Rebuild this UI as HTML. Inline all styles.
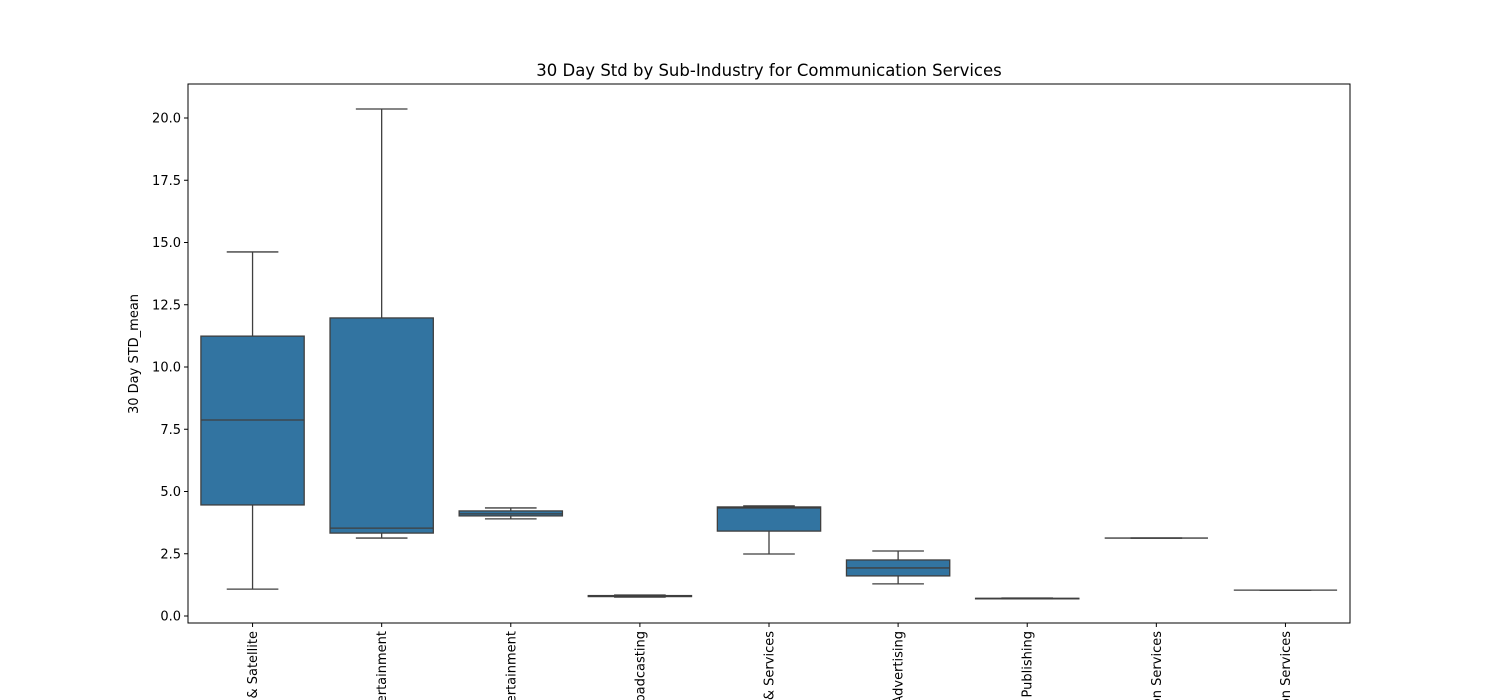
<!DOCTYPE html>
<html><head><meta charset="utf-8"><style>
html,body{margin:0;padding:0;width:1500px;height:700px;overflow:hidden;background:#fff;}
svg{display:block;font-family:"DejaVu Sans","Liberation Sans",sans-serif;overflow:hidden;}
</style></head><body>
<svg id="chart" width="1500" height="700" xmlns="http://www.w3.org/2000/svg"></svg>
<script>
const categories=["Cable & Satellite","Movies & Entertainment","Interactive Home Entertainment","Broadcasting","Interactive Media & Services","Advertising","Publishing","Integrated Telecommunication Services","Wireless Telecommunication Services"];
const whiskerLow=[1.08,3.13,3.90,0.76,2.49,1.29,0.69,3.13,1.04];
const q1Values=[4.46,3.33,4.02,0.78,3.41,1.61,0.69,3.13,1.04];
const medianValues=[7.87,3.53,4.10,0.80,4.34,1.93,0.70,3.13,1.04];
const q3Values=[11.24,11.97,4.22,0.82,4.38,2.25,0.71,3.13,1.04];
const whiskerHigh=[14.62,20.36,4.34,0.84,4.42,2.61,0.72,3.13,1.04];
const yTicks=[0,2.5,5,7.5,10,12.5,15,17.5,20];
const yTickLabels=["0.0","2.5","5.0","7.5","10.0","12.5","15.0","17.5","20.0"];

const svg=document.getElementById('chart');
const NS='http://www.w3.org/2000/svg';
const L=188,R=1350,T=84,B=623;
const y=v=>616-v*24.9;
const band=(R-L)/categories.length;
const x=i=>L+band*(i+0.5);
function mk(tag,attrs,parent){const e=document.createElementNS(NS,tag);for(const k in attrs)e.setAttribute(k,attrs[k]);(parent||svg).appendChild(e);return e;}

const title=mk('text',{x:769,y:76,'text-anchor':'middle','font-size':16.5,fill:'#000'});


title.textContent='30 Day Std by Sub-Industry for Communication Services';

const ylab=mk('text',{transform:'translate(138,354) rotate(-90)','text-anchor':'middle','font-size':13,fill:'#000'});


ylab.textContent='30 Day STD_mean';

yTicks.forEach((t,i)=>{
  const g=mk('g',{});
  
  
  mk('line',{x1:L-4,x2:L,y1:y(t),y2:y(t),stroke:'#000','stroke-width':1},g);
  const tx=mk('text',{x:L-7,y:y(t)+4.5,'text-anchor':'end','font-size':13,fill:'#000'},g);
  tx.textContent=yTickLabels[i];
});

const bw=band*0.8;
categories.forEach((c,i)=>{
  const cx=x(i);
  const g=mk('g',{});
  
  
  const st={stroke:'#3f3f3f','stroke-width':1.3,fill:'none'};
  mk('line',Object.assign({x1:cx,x2:cx,y1:y(whiskerHigh[i]),y2:y(q3Values[i])},st),g);
  mk('line',Object.assign({x1:cx,x2:cx,y1:y(q1Values[i]),y2:y(whiskerLow[i])},st),g);
  mk('line',Object.assign({x1:cx-bw/4,x2:cx+bw/4,y1:y(whiskerHigh[i]),y2:y(whiskerHigh[i])},st),g);
  mk('line',Object.assign({x1:cx-bw/4,x2:cx+bw/4,y1:y(whiskerLow[i]),y2:y(whiskerLow[i])},st),g);
  mk('rect',{x:cx-bw/2,y:y(q3Values[i]),width:bw,height:Math.max(0,y(q1Values[i])-y(q3Values[i])),fill:'#3274a1',stroke:'#3f3f3f','stroke-width':1.3},g);
  mk('line',Object.assign({x1:cx-bw/2,x2:cx+bw/2,y1:y(medianValues[i]),y2:y(medianValues[i])},st),g);
  mk('line',{x1:cx,x2:cx,y1:B,y2:B+4,stroke:'#000','stroke-width':1},g);
  const tl=mk('text',{transform:`translate(${cx+4.5},${B+8}) rotate(-90)`,'text-anchor':'end','font-size':13,fill:'#000'},g);
  
  
  tl.textContent=c;
});

const frame=mk('rect',{x:L,y:T,width:R-L,height:B-T,fill:'none',stroke:'#000','stroke-width':1});


</script>
</body></html>
